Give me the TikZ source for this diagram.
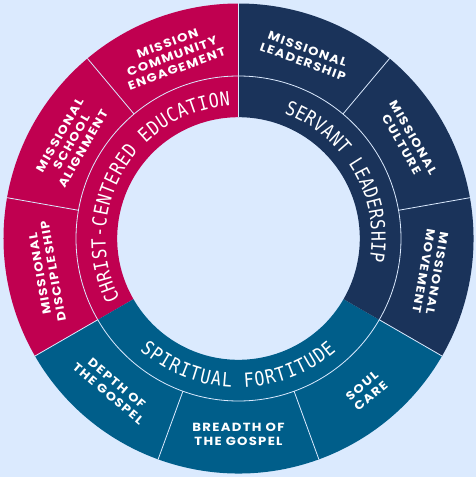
\documentclass[tikz,border=0pt]{standalone}
\usepackage{fontspec}
\usetikzlibrary{decorations.text}

\newfontfamily\segfont{Poppins}[LetterSpace=11, FakeStretch=1.12]
\newfontfamily\bandfont{DejaVu Sans Mono}[FakeStretch=0.85]
\newcommand{\bandstyle}{\bandfont\fontsize{19.5}{20}\selectfont}

\definecolor{pagebg}{RGB}{219,234,254}
\definecolor{crimson}{RGB}{192,0,80}
\definecolor{navy}{RGB}{26,51,90}
\definecolor{tealblue}{RGB}{0,94,138}

\begin{document}
\begin{tikzpicture}[
    seglabel/.style={text=white, align=center, inner sep=0pt, font=\segfont\bfseries\fontsize{11.8}{13.5}\selectfont},
    divider/.style={draw=pagebg, line width=0.8pt},
    bandtext/.style={decorate, decoration={text along path, text align=fit to path, text color=white}},
]
    % Page and frame
    \fill[pagebg] (-238.5pt,-238.5pt) rectangle (237.5pt,238.5pt);
    \useasboundingbox (-238.5pt,-238.5pt) rectangle (237.5pt,238.5pt);

    % Three pillars
    \fill[crimson] (90:235pt) arc[start angle=90, end angle=210, radius=235pt]
        -- (210:121.3pt) arc[start angle=210, end angle=90, radius=121.3pt] -- cycle;
    \fill[tealblue] (210:235pt) arc[start angle=210, end angle=330, radius=235pt]
        -- (330:121.3pt) arc[start angle=330, end angle=210, radius=121.3pt] -- cycle;
    \fill[navy] (330:235pt) arc[start angle=330, end angle=450, radius=235pt]
        -- (90:121.3pt) arc[start angle=90, end angle=-30, radius=121.3pt] -- cycle;

    % Thin dividers
    \draw[divider] (0,0) circle[radius=162.5pt];
    \draw[divider] (90:121.3pt) -- (90:235pt);
    \draw[divider] (130:162.5pt) -- (130:235pt);
    \draw[divider] (170:162.5pt) -- (170:235pt);
    \draw[divider] (210:162.5pt) -- (210:235pt);
    \draw[divider] (250:162.5pt) -- (250:235pt);
    \draw[divider] (290:162.5pt) -- (290:235pt);
    \draw[divider] (330:162.5pt) -- (330:235pt);
    \draw[divider] (10:162.5pt) -- (10:235pt);
    \draw[divider] (50:162.5pt) -- (50:235pt);

    % Inner band titles
    \path[bandtext, decoration={text={|\bandstyle|CHRIST-CENTERED EDUCATION}}]
        (207:133pt) arc[start angle=207, end angle=93.5, radius=133pt];
    \path[bandtext, decoration={text={|\bandstyle|SERVANT LEADERSHIP}}]
        (70:133pt) arc[start angle=70, end angle=-10, radius=133pt];
    \path[bandtext, decoration={text={|\bandstyle|SPIRITUAL FORTITUDE}}]
        (228.5:149pt) arc[start angle=228.5, end angle=311, radius=149pt];

    % Outer ring: education
    \node[seglabel, rotate=20] (engage) at (110:194pt) {MISSION\\COMMUNITY\\ENGAGEMENT};
    \node[seglabel, rotate=60] (align) at (150:193pt) {MISSIONAL\\SCHOOL\\ALIGNMENT};
    \node[seglabel, rotate=100] (disciple) at (190:195pt) {MISSIONAL\\DISCIPLESHIP};

    % Outer ring: fortitude
    \node[seglabel, rotate=-40] (depth) at (230:196pt) {DEPTH OF\\THE GOSPEL};
    \node[seglabel] (breadth) at (270:196pt) {BREADTH OF\\THE GOSPEL};
    \node[seglabel, rotate=40] (soul) at (310:199pt) {SOUL\\CARE};

    % Outer ring: leadership
    \node[seglabel, rotate=-100] (movement) at (350:195pt) {MISSIONAL\\MOVEMENT};
    \node[seglabel, rotate=-60] (culture) at (30:195pt) {MISSIONAL\\CULTURE};
    \node[seglabel, rotate=-20] (leader) at (70:195pt) {MISSIONAL\\LEADERSHIP};
\end{tikzpicture}
\end{document}
